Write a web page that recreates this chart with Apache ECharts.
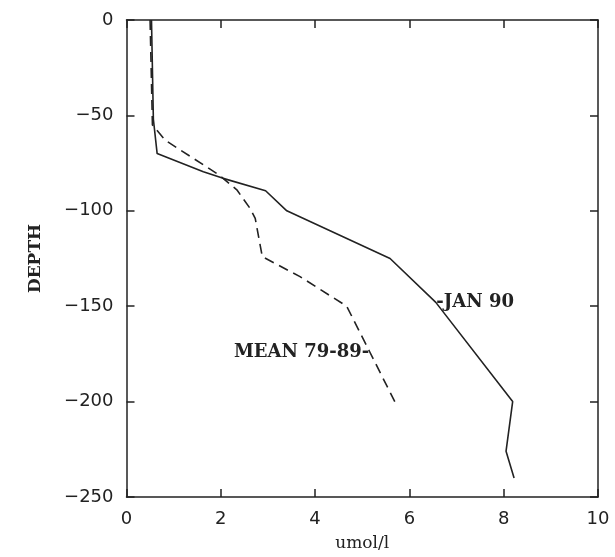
<!DOCTYPE html>
<html><head><meta charset="utf-8">
<script src="https://cdn.jsdelivr.net/npm/echarts@6/dist/echarts.min.js"></script>
<style>html,body{margin:0;padding:0;background:#fff}#c{width:615px;height:557px}</style>
</head><body><div id="c"></div>
<script>
// JAN 90 profile: [umol/l, depth]
var jan90X = [0.53, 0.57, 0.65, 1.63, 2.05, 2.95, 3.40, 5.59, 6.56, 8.19, 8.05, 8.22];
var jan90Y = [0, -52, -70, -79.5, -83, -89.5, -100, -125, -148, -200, -226, -240];
// MEAN 79-89 profile
var meanX = [0.50, 0.55, 0.82, 1.95, 2.34, 2.62, 2.73, 2.88, 3.68, 4.67, 5.16, 5.69];
var meanY = [0, -55, -63, -81, -89, -98.7, -104, -124, -134.5, -150, -174, -200];
var xTicks = [0, 2, 4, 6, 8, 10];
var yTicks = [0, -50, -100, -150, -200, -250];
var janLabel = '-JAN 90';
var janLabelIndex = 8;
var meanLabel = 'MEAN 79-89-';
var meanLabelIndex = 10;

function pairs(xs, ys) {
  return xs.map(function (x, i) { return [x, ys[i]]; });
}
function labelMark(xs, ys, i, txt, pos) {
  return {
    symbol: 'circle', symbolSize: 1, silent: true, animation: false,
    itemStyle: { color: 'rgba(0,0,0,0)' },
    label: { show: true, formatter: txt, position: pos, distance: 0,
      fontFamily: 'DejaVu Serif', fontWeight: 'bold', fontSize: 18, color: '#222' },
    data: [{ coord: [xs[i], ys[i]], value: 0 }]
  };
}
var fmtMinus = function (v) { return String(v).replace('-', '\u2212'); };
var tickFont = { fontFamily: 'DejaVu Sans', fontSize: 18, color: '#222' };
var axisLine = { show: true, onZero: false, lineStyle: { color: '#222', width: 1.5 } };
var tick = { show: true, inside: true, length: 8, lineStyle: { color: '#222', width: 1.5 } };

var chart = echarts.init(document.getElementById('c'));
chart.setOption({
  animation: false,
  grid: { left: 126.5, right: 17, top: 20, bottom: 60 },
  xAxis: [
    { type: 'value', min: xTicks[0], max: xTicks[xTicks.length - 1], interval: 2, position: 'bottom',
      axisLine: axisLine, axisTick: tick, splitLine: { show: false },
      axisLabel: Object.assign({ margin: 13 }, tickFont),
      name: 'umol/l', nameLocation: 'middle', nameGap: 38,
      nameTextStyle: { fontFamily: 'DejaVu Serif', fontSize: 17, color: '#222' } },
    { type: 'value', min: 0, max: 10, interval: 2, position: 'top',
      axisLine: axisLine, axisTick: tick, axisLabel: { show: false }, splitLine: { show: false } }
  ],
  yAxis: [
    { type: 'value', min: yTicks[yTicks.length - 1], max: yTicks[0], interval: 50, position: 'left',
      axisLine: axisLine, axisTick: tick, splitLine: { show: false },
      axisLabel: Object.assign({ margin: 13, formatter: fmtMinus }, tickFont),
      name: 'DEPTH', nameLocation: 'middle', nameGap: 82, nameRotate: 90,
      nameTextStyle: { fontFamily: 'DejaVu Serif', fontWeight: 'bold', fontSize: 17, color: '#222' } },
    { type: 'value', min: -250, max: 0, interval: 50, position: 'right',
      axisLine: axisLine, axisTick: tick, axisLabel: { show: false }, splitLine: { show: false } }
  ],
  series: [
    { type: 'line', name: 'JAN 90', symbol: 'none', xAxisIndex: 0, yAxisIndex: 0,
      lineStyle: { color: '#222', width: 1.6 },
      data: pairs(jan90X, jan90Y),
      markPoint: labelMark(jan90X, jan90Y, janLabelIndex, janLabel, 'right') },
    { type: 'line', name: 'MEAN 79-89', symbol: 'none', xAxisIndex: 0, yAxisIndex: 0,
      lineStyle: { color: '#222', width: 1.6, type: [10, 6] },
      data: pairs(meanX, meanY),
      markPoint: labelMark(meanX, meanY, meanLabelIndex, meanLabel, 'left') }
  ]
});
</script></body></html>
